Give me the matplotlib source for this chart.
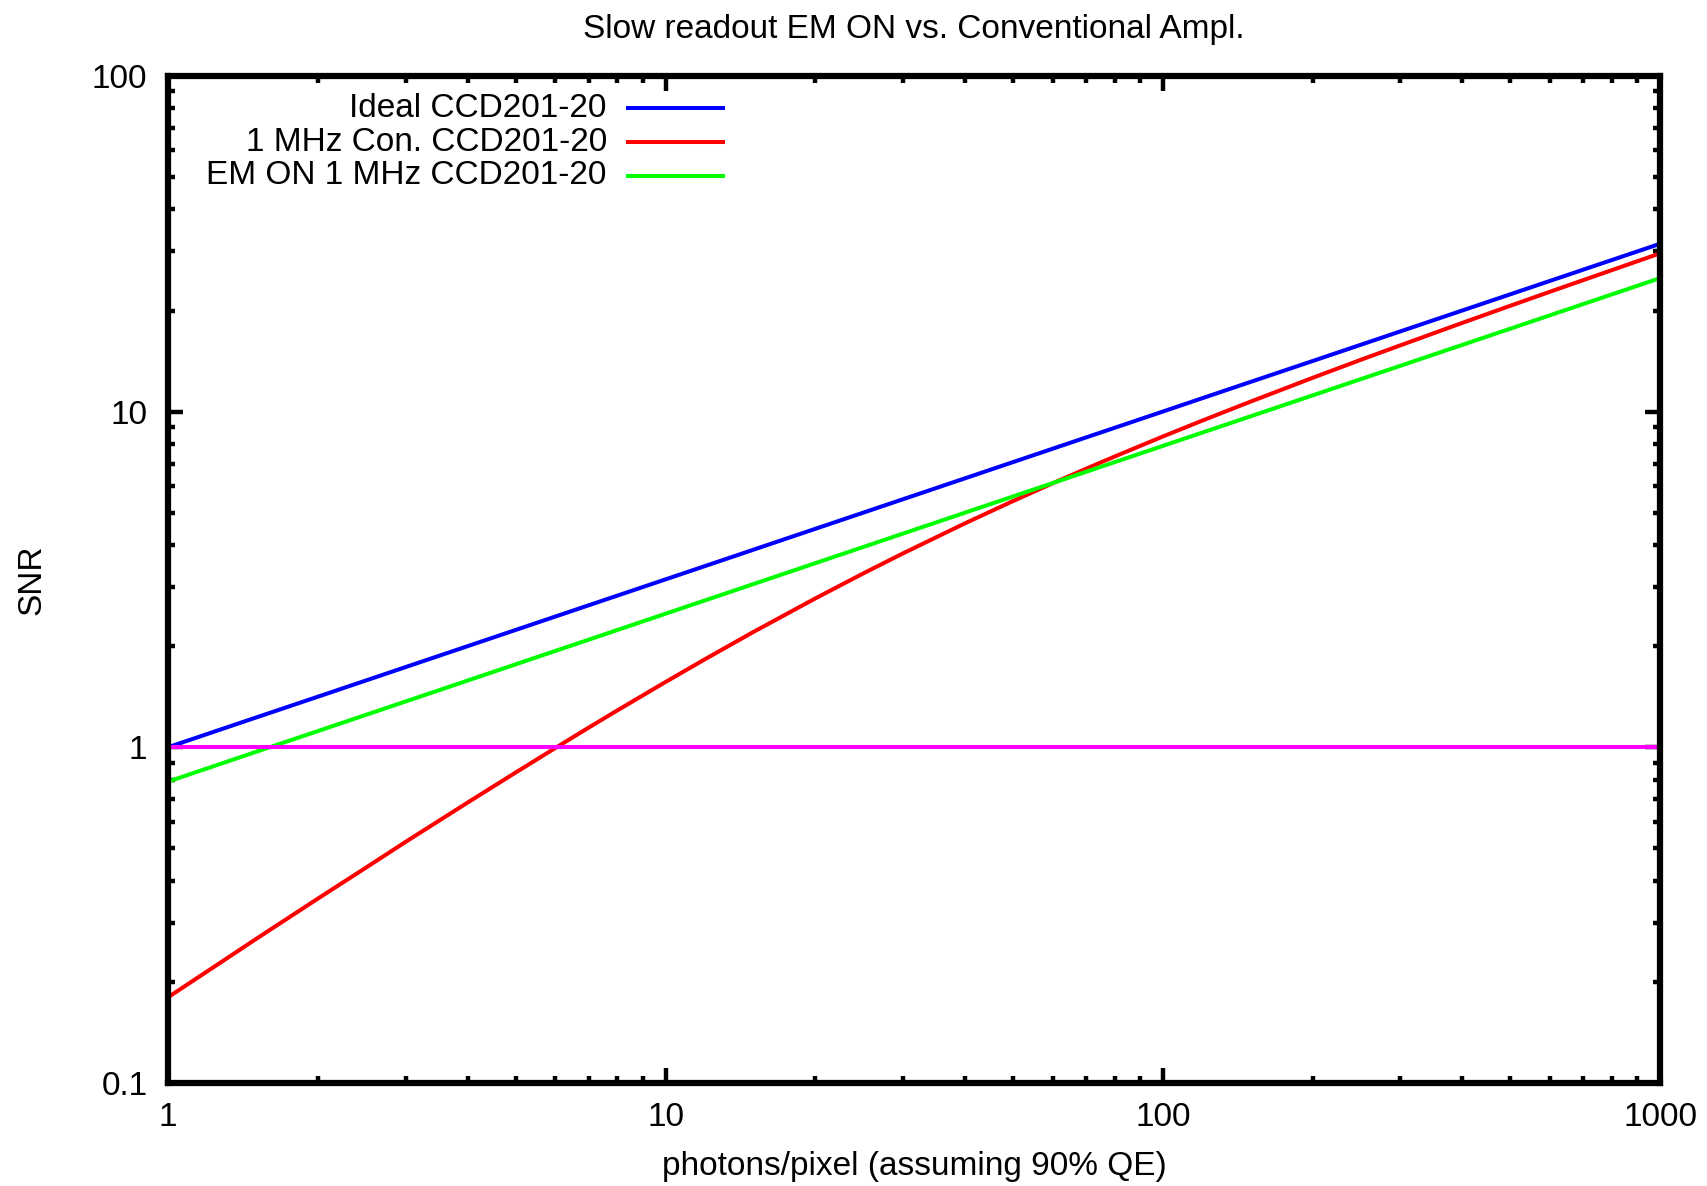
import matplotlib.pyplot as plt
from matplotlib.ticker import FixedLocator, NullFormatter

plt.rcParams['font.family'] = ['Liberation Sans', 'DejaVu Sans']

# photons per pixel
photons = [1, 1.5, 2, 3, 5, 7, 10, 15, 20, 30, 50, 70, 100, 150, 200, 300, 500, 700, 1000]
snr_ideal = [1.0, 1.225, 1.414, 1.732, 2.236, 2.646, 3.162, 3.873, 4.472, 5.477,
             7.071, 8.367, 10.0, 12.25, 14.14, 17.32, 22.36, 26.46, 31.62]
snr_em = [0.79, 0.968, 1.117, 1.368, 1.766, 2.090, 2.498, 3.060, 3.533, 4.327,
          5.586, 6.610, 7.90, 9.675, 11.17, 13.68, 17.66, 20.90, 24.98]

# conventional amp curve bends, so it is read at more points
photons_conv = [1, 1.25, 1.5, 2, 2.5, 3, 4, 5, 6, 7, 8, 10, 12, 15, 20, 25, 30, 40, 50,
                60, 70, 80, 100, 120, 150, 200, 250, 300, 400, 500, 600, 700, 800, 1000]
snr_conv = [0.18, 0.224, 0.268, 0.354, 0.438, 0.522, 0.684, 0.841, 0.994, 1.143, 1.287,
            1.564, 1.828, 2.202, 2.774, 3.296, 3.777, 4.644, 5.413, 6.110, 6.750, 7.345,
            8.426, 9.397, 10.70, 12.60, 14.26, 15.74, 18.37, 20.67, 22.74, 24.63, 26.39, 29.61]

unity_x = [1, 1000]
unity = [1, 1]

labels = ['Ideal CCD201-20', '1 MHz Con. CCD201-20', 'EM ON 1 MHz CCD201-20']
colors = ['#0000ff', '#ff0000', '#00ff00']

fig = plt.figure(figsize=(17.08, 11.86), dpi=100)
ax = fig.add_axes([0.0985, 0.087, 0.8735, 0.849])

ax.plot(photons, snr_ideal, color=colors[0], lw=2.9)
ax.plot(photons_conv, snr_conv, color=colors[1], lw=2.9)
ax.plot(photons, snr_em, color=colors[2], lw=2.9)
ax.plot(unity_x, unity, color='#ff00ff', lw=2.9)

ax.set_xscale('log')
ax.set_yscale('log')
ax.set_xlim(1, 1000)
ax.set_ylim(0.1, 100)

ax.xaxis.set_major_locator(FixedLocator([1, 10, 100, 1000]))
ax.yaxis.set_major_locator(FixedLocator([0.1, 1, 10, 100]))
ax.set_xticklabels(['1', '10', '100', '1000'])
ax.set_yticklabels(['0.1', '1', '10', '100'])
ax.xaxis.set_minor_formatter(NullFormatter())
ax.yaxis.set_minor_formatter(NullFormatter())
ax.tick_params(which='both', direction='in', top=True, right=True, labelsize=24, width=3.2)
ax.tick_params(which='major', length=11)
ax.tick_params(axis='x', which='major', pad=14)
ax.tick_params(axis='y', which='major', pad=15)
ax.tick_params(which='minor', length=5)
for s in ax.spines.values():
    s.set_linewidth(4.5)

ax.set_xlabel('photons/pixel (assuming 90% QE)', fontsize=24, labelpad=13)
ax.set_ylabel('SNR', fontsize=24, labelpad=32)
ax.set_title('Slow readout EM ON vs. Conventional Ampl.', fontsize=24, pad=27)

# gnuplot style key: right aligned text, sample line after it
key_y = [0.968, 0.934, 0.901]
for lab, c, yy in zip(labels, colors, key_y):
    ax.text(0.294, yy, lab, transform=ax.transAxes, ha='right', va='center', fontsize=24)
    ax.plot([0.308, 0.372], [yy, yy], transform=ax.transAxes, color=c, lw=2.9)

fig.savefig('out.png', dpi=100)
